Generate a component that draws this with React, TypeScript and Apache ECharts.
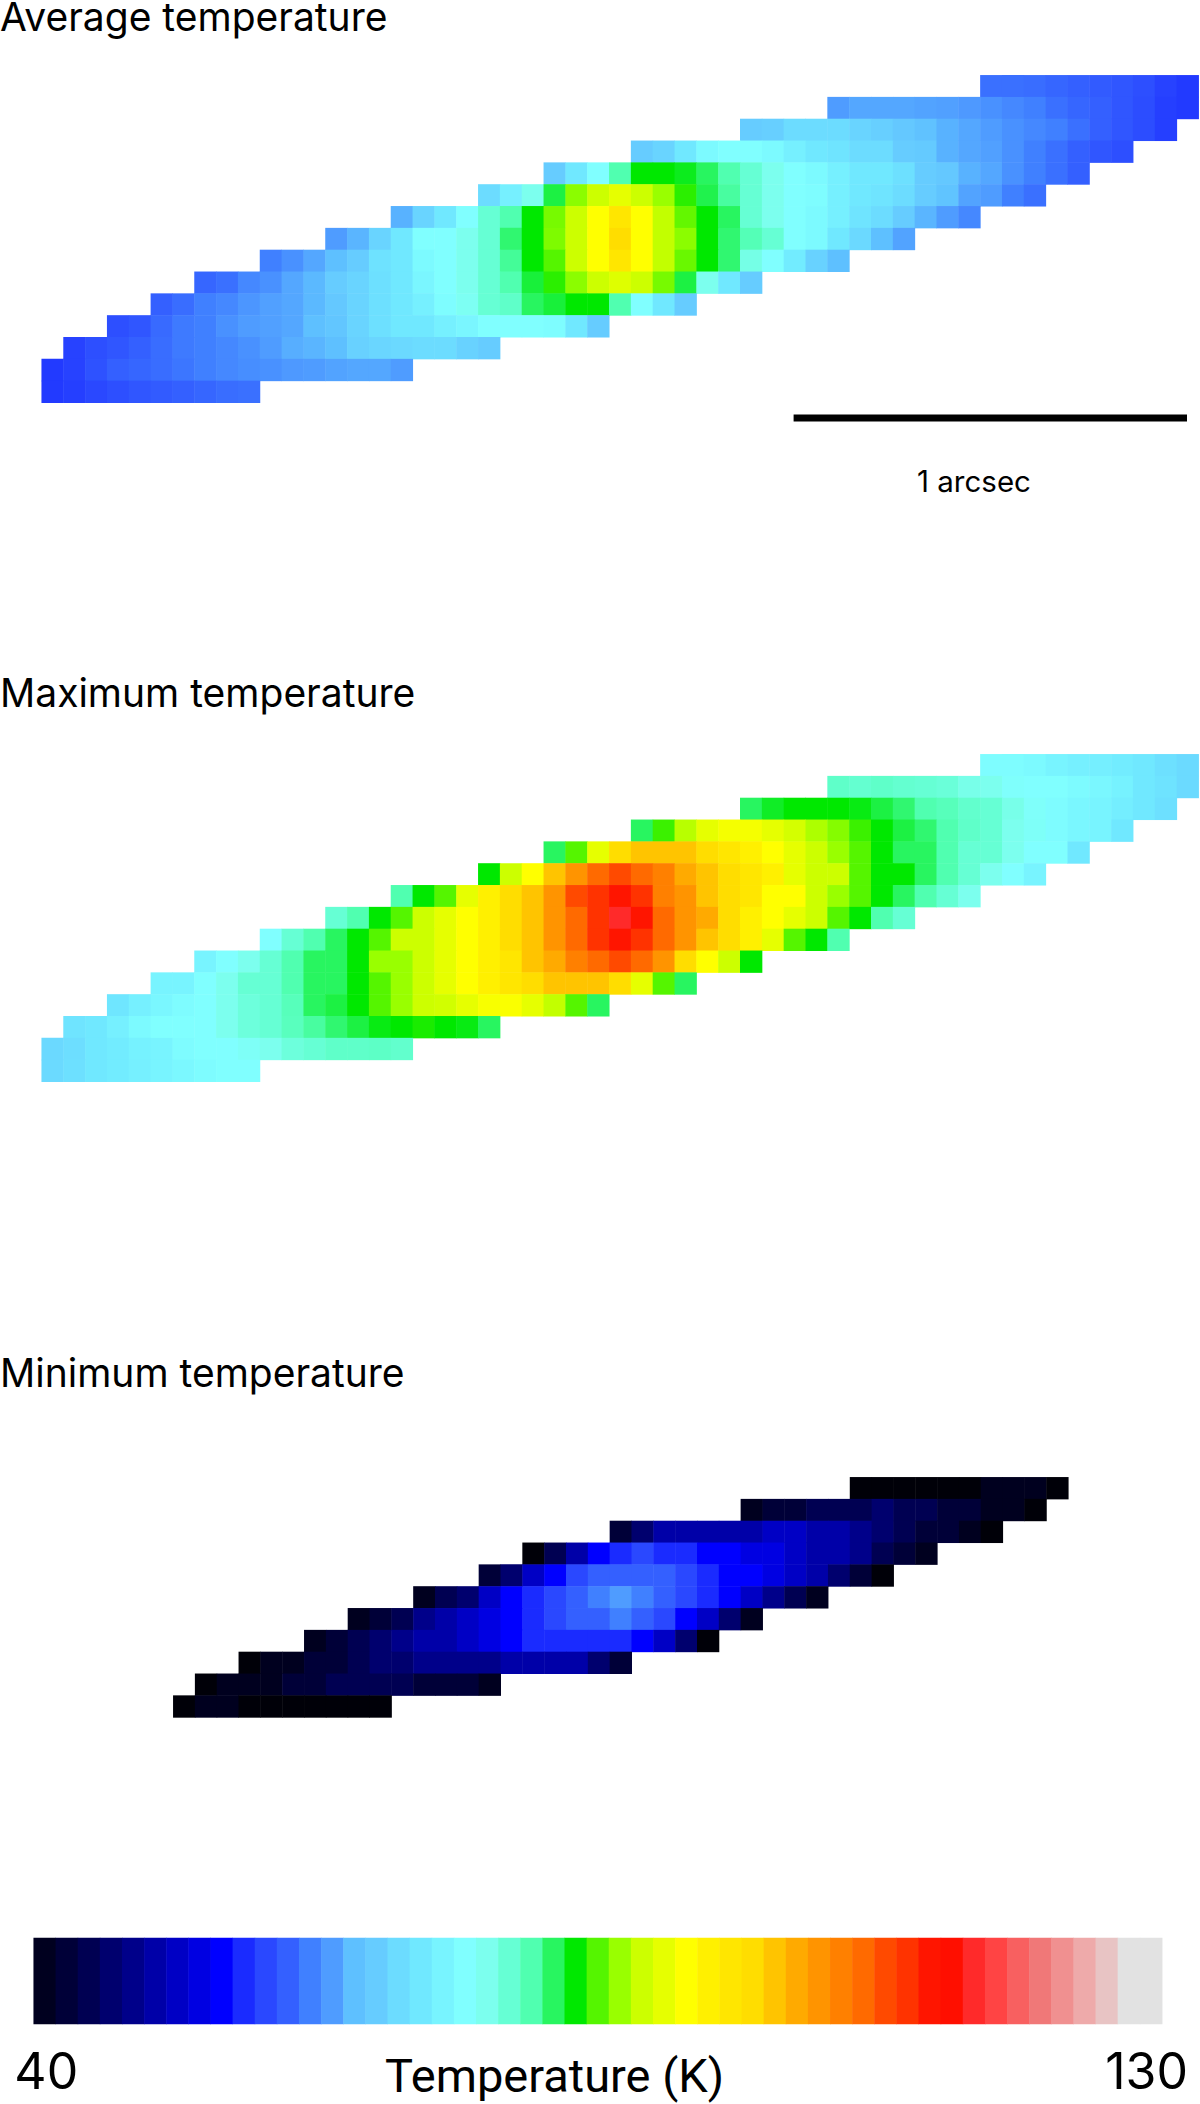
import React, { useEffect, useRef } from "react";
import * as echarts from "echarts";

// Colour steps of the stepped colour bar (index 0 = saturated below 40 K, 1..51 = bar steps)
const colourSteps = [
  "#000008", "#00001f", "#000038", "#000052", "#00006e", "#00008a", "#0000a8", "#0000c5", "#0000e2", "#0000ff",
  "#1a2bff", "#2a48ff", "#3460ff", "#4080ff", "#4f9cff", "#5ec0ff", "#66ccff", "#6cdcff", "#70e8ff", "#78f4ff",
  "#80ffff", "#7cffee", "#66ffd4", "#50ffb0", "#28f560", "#00e800", "#55f500", "#99ff00", "#ccff00", "#e6ff00",
  "#ffff00", "#fff000", "#ffe600", "#ffdd00", "#ffc400", "#ffaa00", "#ff9400", "#ff8000", "#ff6a00", "#ff4a00",
  "#ff3300", "#ff1500", "#ff0f00", "#ff2a2a", "#ff4444", "#f86060", "#f07878", "#f09090", "#eeaaaa", "#e8c4c4",
  "#e2e2e2", "#e2e2e2",
];
const colourBarSteps = [
  1, 2, 3, 4, 5, 6, 7, 8, 9, 10, 11, 12, 13, 14, 15, 16, 17, 18, 19, 20, 21, 22, 23, 24, 25, 26,
  27, 28, 29, 30, 31, 32, 33, 34, 35, 36, 37, 38, 39, 40, 41, 42, 43, 44, 45, 46, 47, 48, 49, 50, 51,
];
const colourBarMin = 40;
const colourBarMax = 130;

// First column of each row (top row first)
const wideRowStarts = [43, 36, 32, 27, 23, 20, 16, 13, 10, 7, 5, 3, 1, 0, 0];
const minRowStarts = [31, 26, 20, 16, 14, 11, 8, 6, 3, 1, 0];

// Cell values read as positions on the colour bar (in steps), row by row from the top
const averageTemperature = [
  [12.5, 12.5, 12.4, 12.2, 12, 11.8, 11.6, 11.3, 10.8, 10.5],
  [14, 14.3, 14.3, 14.3, 14.2, 14.1, 13.9, 13.6, 13.3, 13, 12.5, 12.2, 12, 11.6, 11.2, 10.7, 10.5],
  [16, 16.2, 17, 17, 17, 16.5, 16.2, 15.7, 15.2, 14.6, 14.3, 14, 13.6, 13.3, 13, 12.5, 12, 11.6, 11.2, 10.7],
  [16, 16.5, 18, 19.5, 20, 20, 19.5, 18.7, 18, 17.7, 17, 17, 16, 15.8, 14.6, 14.3, 14.1, 13.6, 13, 12.5, 12, 11.6, 11.3],
  [16, 18, 20, 23, 25, 25, 24.7, 24, 23, 22, 21, 20, 19.5, 18.7, 18, 18, 17.3, 16, 15.7, 14.6, 14.3, 13.6, 13, 12.5, 12],
  [17, 18.7, 21, 24.3, 26.8, 28, 29, 28, 27, 25.5, 24.2, 23.2, 22, 21, 20, 19.8, 18.7, 18, 17.7, 17, 16, 15.3, 14.2, 14, 13, 12.5],
  [14.6, 16.5, 18, 20, 22, 23, 25, 26.5, 28, 30, 32, 30, 27.8, 26.2, 25, 24, 22, 21, 20, 19.5, 18.7, 17.7, 17, 16, 14.7, 14, 13.3],
  [14, 14.7, 16.5, 18, 20, 20, 21, 22, 23.8, 25, 26.6, 28, 30, 33, 30, 27.8, 26.8, 25, 23.8, 22.8, 22, 20, 19.5, 18, 16.8, 15, 14.2],
  [13, 13.6, 14.3, 15, 16, 17.5, 18, 19.5, 20, 21, 22, 23.3, 25, 26, 28, 30, 32, 30, 27.8, 26.3, 25, 23.8, 21.3, 20, 18.3, 16.4, 15],
  [12.2, 12.5, 13.3, 13.6, 14.3, 14.8, 16, 16.5, 17.3, 18, 19.2, 20, 21, 22, 23, 24.4, 25.5, 26.8, 28, 28.7, 28, 26.5, 24.3, 21, 18, 16],
  [12, 12.4, 13, 13.3, 13.8, 14.1, 14.3, 14.8, 15.7, 16.5, 17.3, 18, 18.7, 19.8, 20.7, 22, 22.3, 24, 24.4, 25, 25, 23, 20, 18, 16],
  [11.3, 11.6, 12.3, 12.8, 13, 13.6, 14, 14.1, 14.3, 15, 15.5, 16.5, 17.3, 18, 18, 18.7, 19.2, 20, 20, 20, 19.8, 18, 16],
  [10.8, 11.3, 11.6, 12, 12.4, 12.8, 13, 13.3, 13.6, 14, 14.5, 14.7, 15, 16.3, 16.6, 16.8, 17, 17, 16.4, 16],
  [10.5, 10.8, 11.4, 12, 12.2, 12.4, 12.7, 13, 13.3, 13.5, 13.6, 13.9, 14, 14.2, 14.3, 14.3, 14],
  [10.5, 10.7, 11, 11.3, 11.6, 11.8, 12, 12.2, 12.4, 12.5],
];

const maximumTemperature = [
  [19.8, 19.8, 19.5, 19, 18.7, 18.6, 18.3, 18, 17.3, 16.9],
  [22.3, 22.1, 22.3, 22.1, 22, 21.8, 21.2, 21, 20.2, 20, 20, 19.6, 19.3, 18.8, 18, 17.6, 16.9],
  [24, 24.6, 25, 25, 25, 24.8, 24.3, 23.8, 23, 22.7, 22.2, 22, 21.2, 20.3, 19.7, 19.3, 19, 18.5, 18, 17.3],
  [24, 25.7, 27.6, 29, 29.6, 29.6, 29, 28.3, 27.4, 26.7, 25.7, 25, 24.3, 23.8, 23, 22.3, 22, 21, 20.4, 19.7, 19.3, 19, 18],
  [24, 26, 29, 33, 34, 34, 34, 33, 32, 31, 30, 29, 28, 27, 26, 25, 24, 24, 23, 22, 22, 21, 20, 20, 18],
  [25, 28, 30, 34, 36, 38, 39, 38, 37, 35, 34, 33, 32, 31, 29, 28, 28, 26, 25, 25, 24, 23, 22, 21, 20, 19],
  [23, 25, 26, 29, 31, 33, 34, 36, 39, 40, 41, 40, 37, 36, 34, 33, 32, 30, 30, 28, 27, 26, 25, 24, 23, 22, 21],
  [22, 23, 25, 26, 28, 29, 30, 31, 33, 34, 36, 38, 40, 43, 41, 38, 36, 35, 33, 31, 30, 29, 28, 26, 25, 23, 22],
  [20, 22, 23, 24, 25, 26, 28, 28, 29, 30, 31, 33, 34, 36, 38, 40, 41, 40, 38, 36, 34, 33, 31, 29, 26, 25, 23],
  [19, 20, 21, 22, 23, 24, 24, 25, 27, 27, 28, 29, 30, 31, 32, 34, 35, 37, 38, 39, 38, 36, 33, 30, 28, 25],
  [19, 19, 20, 21, 22, 22, 23, 24, 24, 25, 26, 27, 28, 29, 30, 31, 32, 33, 34, 34, 34, 33, 29, 26, 24],
  [17.8, 18.7, 19.3, 19.7, 20, 21, 21.7, 22, 22.7, 24, 24.3, 25, 26, 27, 28, 28.2, 29, 29.7, 29.8, 29, 27.8, 26, 24],
  [17.7, 18, 18.7, 19.5, 20, 20, 20, 21, 21.7, 22, 22.6, 23.2, 23.8, 24.3, 24.8, 25, 25.3, 25, 24.8, 24],
  [16.8, 17.2, 18, 18.3, 18.8, 19, 19.7, 20, 20, 20.5, 21, 21.7, 22, 22.3, 22.3, 22.4, 22.2],
  [16.9, 17.3, 18, 18.3, 18.7, 19, 19.4, 19.7, 20, 20],
];

const minimumTemperature = [
  [0, 0, 0, 0, 0, 0, 1, 1, 1, 0],
  [1, 2, 2, 3, 3, 3, 4, 3, 3, 2, 2, 1, 1, 0],
  [2, 4, 6, 6, 6, 6, 6, 7, 7, 6, 6, 5, 4, 3, 2, 2, 1, 0],
  [0, 3, 6, 9, 10, 11, 10, 10, 9, 9, 8, 8, 7, 6, 6, 5, 3, 2, 1],
  [2, 4, 7, 9, 11, 12, 12, 12, 12, 11, 10, 9, 9, 8, 7, 6, 4, 2, 0],
  [1, 3, 4, 7, 9, 10, 11, 12, 13, 14, 13, 12, 11, 10, 9, 7, 5, 3, 1],
  [1, 2, 3, 5, 6, 7, 8, 9, 10, 11, 12, 12, 13, 12, 11, 9, 7, 4, 1],
  [1, 2, 3, 4, 5, 6, 6, 7, 8, 9, 10, 10, 10, 10, 10, 9, 7, 4, 0],
  [0, 1, 1, 2, 2, 3, 4, 4, 5, 5, 5, 5, 6, 6, 6, 6, 4, 2],
  [0, 1, 1, 1, 2, 2, 3, 3, 3, 3, 2, 2, 2, 1],
  [0, 1, 1, 0, 0, 0, 0, 0, 0, 0],
];

const panelTitles = ["Average temperature", "Maximum temperature", "Minimum temperature"];
const scaleBarLabel = "1 arcsec";
const colourBarName = "Temperature (K)";
const colourBarTickLabels = ["40", "130"];

const FONT = "Inter, 'Liberation Sans', sans-serif";
const stepK = (colourBarMax - colourBarMin) / 51;
const toKelvin = (step: number) => colourBarMin + (step - 0.5) * stepK;

function cells(rows: number[][], starts: number[]) {
  const out: number[][] = [];
  rows.forEach((row, r) => row.forEach((step, i) => out.push([starts[r] + i, r, toKelvin(step)])));
  return out;
}
const indexAxis = (n: number) => Array.from({ length: n }, (_, i) => String(i));

function buildOption() {
  const CELL = 21.83;
  const panels = [
    { rows: averageTemperature, starts: wideRowStarts, cols: 53, left: 41.7, top: 75.3 },
    { rows: maximumTemperature, starts: wideRowStarts, cols: 53, left: 41.7, top: 754.3 },
    { rows: minimumTemperature, starts: minRowStarts, cols: 41, left: 173.3, top: 1477.3 },
  ];
  const grid: any[] = panels.map((p) => ({
    left: p.left,
    top: p.top,
    width: p.cols * CELL,
    height: p.rows.length * CELL,
  }));
  grid.push({ left: 33.7, top: 1938, width: 1129, height: 86 });

  const xAxis: any[] = panels.map((p, i) => ({
    type: "category",
    gridIndex: i,
    data: indexAxis(p.cols),
    show: false,
  }));
  xAxis.push({
    type: "category",
    gridIndex: 3,
    data: colourBarSteps.map(String),
    axisLine: { show: false },
    axisTick: { show: false },
    axisLabel: {
      interval: 0,
      margin: 27,
      fontSize: 50,
      lineHeight: 40,
      fontFamily: FONT,
      color: "#000",
      formatter: (_: string, idx: number) =>
        idx === 0
          ? `{lo|${colourBarTickLabels[0]}}`
          : idx === colourBarSteps.length - 1
            ? `{hi|${colourBarTickLabels[1]}}`
            : "",
      rich: {
        lo: { fontSize: 50, lineHeight: 40, fontFamily: FONT, color: "#000", padding: [0, 0, 0, 3] },
        hi: { fontSize: 50, lineHeight: 40, fontFamily: FONT, color: "#000", padding: [0, 9, 0, 0] },
      },
    },
  });
  const yAxis: any[] = panels.map((p, i) => ({
    type: "category",
    gridIndex: i,
    inverse: true,
    data: indexAxis(p.rows.length),
    show: false,
  }));
  yAxis.push({ type: "category", gridIndex: 3, data: ["bar"], show: false });

  const series: any[] = panels.map((p, i) => ({
    type: "heatmap",
    name: panelTitles[i],
    xAxisIndex: i,
    yAxisIndex: i,
    data: cells(p.rows, p.starts),
    itemStyle: { borderWidth: 0 },
    emphasis: { disabled: true },
  }));
  series.push({
    type: "heatmap",
    name: colourBarName,
    xAxisIndex: 3,
    yAxisIndex: 3,
    data: colourBarSteps.map((s, i) => [i, 0, toKelvin(s)]),
    itemStyle: { borderWidth: 0 },
    emphasis: { disabled: true },
  });

  const titleStyle = { fontSize: 39, lineHeight: 30, fontFamily: FONT, fontWeight: "normal", color: "#000" };
  return {
    animation: false,
    backgroundColor: "#fff",
    tooltip: { show: false },
    title: [
      { text: panelTitles[0], left: 0, top: 1, padding: 0, textStyle: titleStyle },
      { text: panelTitles[1], left: 0, top: 677, padding: 0, textStyle: titleStyle },
      { text: panelTitles[2], left: 0, top: 1357, padding: 0, textStyle: titleStyle },
      {
        text: scaleBarLabel,
        left: 917,
        top: 466,
        padding: 0,
        textStyle: { ...titleStyle, fontSize: 29.5, lineHeight: 30 },
      },
      {
        text: colourBarName,
        left: 385,
        top: 2055,
        padding: 0,
        textStyle: { ...titleStyle, fontFamily: "Roboto, Inter, sans-serif", fontSize: 47, lineHeight: 40 },
      },
    ],
    visualMap: {
      show: false,
      type: "continuous",
      dimension: 2,
      seriesIndex: [0, 1, 2, 3],
      min: toKelvin(0),
      max: toKelvin(51),
      inRange: { color: colourSteps },
    },
    grid,
    xAxis,
    yAxis,
    series,
    graphic: [
      {
        type: "rect",
        shape: { x: 793.6, y: 414.5, width: 393.4, height: 7 },
        style: { fill: "#000" },
      },
    ],
  };
}

export default function App() {
  const ref = useRef<HTMLDivElement>(null);
  useEffect(() => {
    const chart = echarts.init(ref.current!, undefined, { renderer: "svg" });
    chart.setOption(buildOption() as any);
    return () => chart.dispose();
  }, []);
  return <div ref={ref} style={{ position: "absolute", left: 0, top: 0, width: 1200, height: 2104 }} />;
}
